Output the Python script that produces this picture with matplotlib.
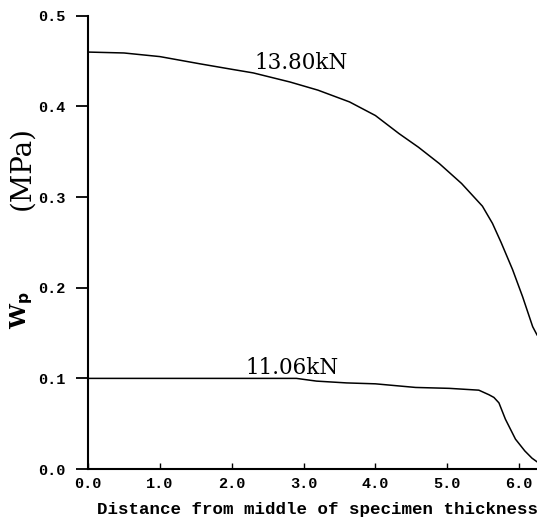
# Plastic work density W_p across the specimen thickness for two loads.
import numpy as np
import matplotlib as mpl; mpl.use('Agg')
import matplotlib.pyplot as plt

# 13.80 kN curve
x_hi = [0.0, 0.5, 1.0, 1.56, 2.0, 2.3, 2.81, 3.2, 3.64, 4.0, 4.33, 4.6, 4.89, 5.2,
        5.49, 5.63, 5.75, 5.91, 6.05, 6.19, 6.25]
w_hi = [0.460, 0.459, 0.455, 0.447, 0.441, 0.437, 0.427, 0.418, 0.405, 0.390, 0.370,
        0.355, 0.337, 0.315, 0.290, 0.271, 0.250, 0.220, 0.190, 0.157, 0.148]
# 11.06 kN curve
x_lo = [0.0, 1.0, 2.0, 2.9, 3.18, 3.6, 4.0, 4.56, 5.03, 5.44, 5.58, 5.65, 5.72,
        5.81, 5.95, 6.08, 6.18, 6.25]
w_lo = [0.100, 0.100, 0.100, 0.100, 0.097, 0.095, 0.094, 0.090, 0.089, 0.087, 0.082,
        0.079, 0.073, 0.055, 0.033, 0.020, 0.012, 0.008]
xticks = [0, 1, 2, 3, 4, 5, 6]
yticks = [0.0, 0.1, 0.2, 0.3, 0.4, 0.5]

MONO = {'family': 'Liberation Mono', 'weight': 'bold'}
SERIF = 'DejaVu Serif'

fig = plt.figure(figsize=(5.37, 5.27), dpi=100)
ax = fig.add_axes([0.164, 0.110, 0.836, 0.860])

ax.plot(x_hi, w_hi, color='k', lw=1.1)
ax.plot(x_lo, w_lo, color='k', lw=1.1)

ax.set_xlim(0, 6.25); ax.set_ylim(0, 0.5)
for s in ('top', 'right'):
    ax.spines[s].set_visible(False)
for s in ('left', 'bottom'):
    ax.spines[s].set_linewidth(1.5)

ax.set_xticks(xticks)
ax.set_xticklabels([f'{v:.1f}' for v in xticks], fontdict=MONO, fontsize=11)
ax.set_yticks(yticks)
ax.set_yticklabels([f'{v:.1f}' for v in yticks], fontdict=MONO, fontsize=11)
ax.tick_params(axis='x', direction='in', length=4, width=1, pad=6)
ax.tick_params(axis='y', direction='out', length=9, width=1.3, pad=7)

ax.set_xlabel('Distance from middle of specimen thickness', fontdict=MONO,
              fontsize=12.6, labelpad=8, x=0.51)

ax.text(2.96, 0.448, '13.80kN', family=SERIF, fontsize=15.5, ha='center', va='center')
ax.text(2.84, 0.111, '11.06kN', family=SERIF, fontsize=15.5, ha='center', va='center')

fig.text(0.040, 0.412, 'W$_\\mathbf{p}$', family=SERIF, fontweight='bold', fontsize=16,
         rotation=90, ha='center', va='center')
fig.text(0.040, 0.681, '(MPa)', family=SERIF, fontsize=20, rotation=90,
         ha='center', va='center')

fig.savefig('out.png', dpi=100)
